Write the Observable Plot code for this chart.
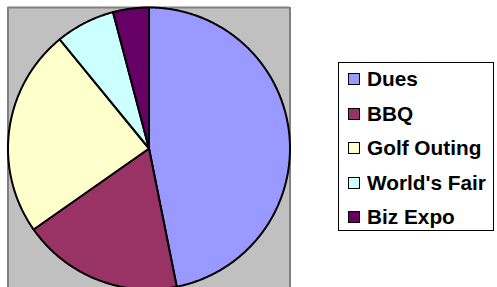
<!DOCTYPE html>
<html>
<head>
<meta charset="utf-8">
<script src="https://cdn.jsdelivr.net/npm/d3@7"></script>
<script src="https://cdn.jsdelivr.net/npm/@observablehq/plot@0.6"></script>
<style>
  html, body { margin: 0; padding: 0; background: #fff; }
  #wrap { position: relative; width: 497px; height: 287px; overflow: hidden; }
  #chart svg { display: block; }
  #legend {
    position: absolute; left: 338px; top: 62px; width: 154px; height: 167px;
    border: 1.5px solid #000; background: #fff; box-sizing: content-box;
    font-family: "Liberation Sans", Arial, sans-serif; font-weight: bold; font-size: 20.8px;
  }
  .row { position: absolute; left: 0; height: 34.5px; display: flex; align-items: center; white-space: nowrap; }
  .sw { width: 10px; height: 10px; border: 1.5px solid #000; margin-left: 9px; margin-right: 7px; }
</style>
</head>
<body>
<div id="wrap">
  <div id="chart"></div>
  <div id="legend"></div>
</div>
<script>
const categories = ["Dues", "BBQ", "Golf Outing", "World's Fair", "Biz Expo"];
const values = [46.8, 18.4, 23.8, 6.8, 4.1];
const colors = ["#9999FF", "#993366", "#FFFFCC", "#CCFFFF", "#660066"];

// layout
const W = 497, H = 287;
const cx = 148.5, cy = 148, r = 141;

const arcs = d3.pie().sort(null).value(d => d.value)(
  categories.map((c, i) => ({category: c, value: values[i]}))
);

// build polygon outlines of slices in data units (unit circle, y up)
const pts = [];
arcs.forEach(a => {
  const n = Math.max(2, Math.ceil((a.endAngle - a.startAngle) / 0.01));
  pts.push({category: a.data.category, x: 0, y: 0});
  for (let k = 0; k <= n; k++) {
    const t = a.startAngle + (a.endAngle - a.startAngle) * k / n;
    pts.push({category: a.data.category, x: Math.sin(t), y: Math.cos(t)});
  }
  pts.push({category: a.data.category, x: 0, y: 0});
});

const yBottom = -(H - cy) / r;
const chart = Plot.plot({
  width: W, height: H,
  marginLeft: cx - r, marginRight: W - (cx + r),
  marginTop: cy - r, marginBottom: 0,
  x: {domain: [-1, 1], axis: null},
  y: {domain: [yBottom, 1], axis: null},
  color: {domain: categories, range: colors},
  style: {background: "transparent", overflow: "visible"},
  marks: [
    Plot.frame({fill: "#C0C0C0", stroke: null}),
    Plot.ruleY([1], {stroke: "#808080", strokeWidth: 2}),
    Plot.ruleX([-1, 1], {stroke: "#808080", strokeWidth: 2}),
    Plot.line(pts, {x: "x", y: "y", z: "category", fill: "category", stroke: "#000",
      strokeWidth: 2, strokeLinejoin: "round", curve: "linear"})
  ]
});
document.getElementById("chart").appendChild(chart);

const legend = document.getElementById("legend");
const rowH = 34.5;
categories.forEach((c, i) => {
  const row = document.createElement("div");
  row.className = "row";
  row.style.top = (-1 + i * rowH) + "px";
  const sw = document.createElement("div");
  sw.className = "sw";
  sw.style.background = colors[i];
  const t = document.createElement("span");
  t.textContent = c;
  row.appendChild(sw); row.appendChild(t);
  legend.appendChild(row);
});
</script>
</body>
</html>
